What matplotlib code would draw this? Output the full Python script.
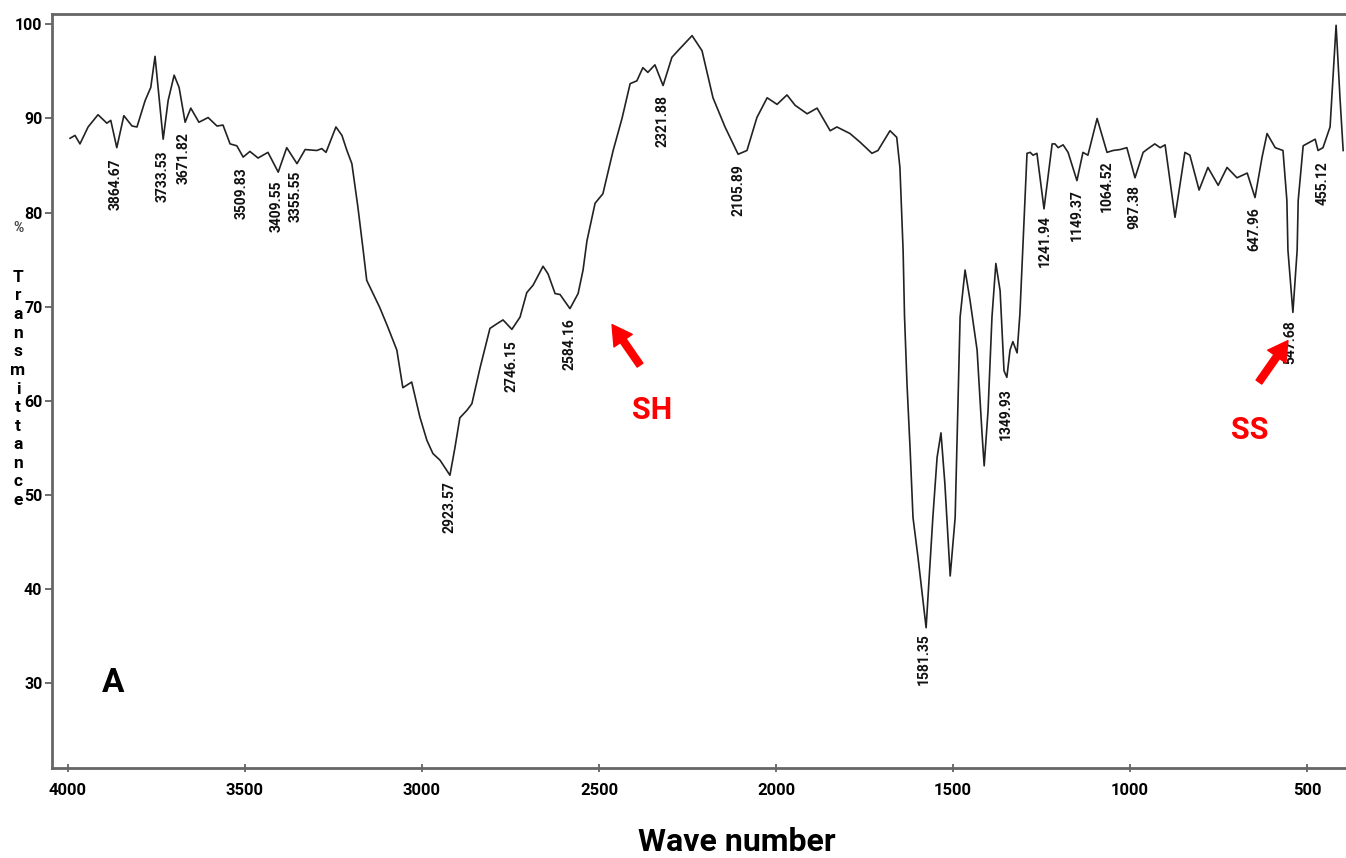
import matplotlib
matplotlib.use('Agg')
import matplotlib.pyplot as plt

# spectrum (wave number, % transmittance)
wave = [3994, 3980, 3966, 3943, 3915, 3890, 3879, 3862, 3842, 3819, 3805, 3782, 3766, 3754,
        3731, 3717, 3700, 3686, 3669, 3653, 3630, 3604, 3579, 3562, 3542, 3523, 3505, 3486,
        3463, 3435, 3406, 3382, 3353, 3330, 3297, 3283, 3271, 3243, 3226, 3212, 3198, 3181,
        3167, 3156, 3138, 3119, 3096, 3071, 3054, 3029, 3006, 2986, 2969, 2949, 2921, 2907,
        2893, 2873, 2859, 2836, 2808, 2788, 2771, 2746, 2723, 2704, 2686, 2658, 2644, 2624,
        2610, 2582, 2559, 2545, 2534, 2511, 2489, 2460, 2435, 2412, 2393, 2376, 2362, 2342,
        2319, 2294, 2277, 2237, 2209, 2178, 2144, 2107, 2082, 2054, 2025, 1997, 1969, 1946,
        1912, 1884, 1847, 1828, 1791, 1763, 1729, 1712, 1678, 1659, 1650, 1641, 1637, 1630,
        1621, 1613, 1599, 1576, 1557, 1545, 1534, 1523, 1508, 1494, 1480, 1466, 1452, 1432,
        1418, 1412, 1401, 1390, 1379, 1367, 1356, 1348, 1339, 1331, 1319, 1311, 1302, 1291,
        1282, 1274, 1263, 1243, 1220, 1212, 1203, 1189, 1175, 1150, 1133, 1119, 1093, 1065,
        1048, 1028, 1009, 986, 963, 949, 930, 915, 901, 873, 845, 831, 805, 780, 751, 726,
        698, 669, 647, 627, 613, 590, 568, 557, 554, 540, 528, 525, 511, 477, 469, 455, 435,
        418, 407, 398]
trans = [87.9, 88.2, 87.3, 89.1, 90.4, 89.5, 89.8, 86.9, 90.3, 89.2, 89.1, 91.9, 93.3, 96.6,
         87.8, 91.9, 94.6, 93.3, 89.6, 91.1, 89.6, 90.1, 89.2, 89.3, 87.3, 87.1, 85.9, 86.5,
         85.8, 86.4, 84.3, 86.9, 85.2, 86.7, 86.6, 86.8, 86.4, 89.1, 88.2, 86.6, 85.2, 80.6,
         76.3, 72.8, 71.4, 69.9, 67.8, 65.4, 61.4, 62.0, 58.3, 55.8, 54.4, 53.7, 52.1, 55.0,
         58.2, 59.0, 59.7, 63.5, 67.7, 68.2, 68.6, 67.6, 68.9, 71.5, 72.3, 74.3, 73.5, 71.4,
         71.3, 69.8, 71.4, 73.9, 77.0, 81.0, 82.0, 86.6, 90.0, 93.7, 94.0, 95.4, 94.9, 95.7,
         93.5, 96.5, 97.2, 98.8, 97.2, 92.2, 89.1, 86.2, 86.6, 90.1, 92.2, 91.5, 92.5, 91.4,
         90.5, 91.1, 88.7, 89.1, 88.4, 87.5, 86.3, 86.6, 88.7, 88.0, 84.8, 76.0, 69.0, 61.8,
         54.7, 47.6, 43.4, 35.9, 47.6, 54.0, 56.6, 51.2, 41.4, 47.6, 68.9, 73.9, 70.7, 65.4,
         56.5, 53.1, 59.0, 68.9, 74.6, 71.7, 63.2, 62.5, 65.4, 66.3, 65.1, 69.3, 77.0, 86.3,
         86.4, 86.1, 86.3, 80.4, 87.3, 87.3, 86.9, 87.2, 86.4, 83.4, 86.4, 86.1, 90.0, 86.4,
         86.6, 86.7, 86.9, 83.7, 86.4, 86.8, 87.3, 86.9, 87.2, 79.5, 86.4, 86.1, 82.4, 84.8,
         82.9, 84.8, 83.7, 84.2, 81.6, 85.9, 88.4, 86.9, 86.6, 81.3, 76.0, 69.4, 76.0, 81.3,
         87.1, 87.8, 86.6, 86.9, 89.1, 99.9, 92.2, 86.6]

# peak labels and the height where each label starts
peak_labels = ['3864.67', '3733.53', '3671.82', '3509.83', '3409.55', '3355.55', '2923.57',
               '2746.15', '2584.16', '2321.88', '2105.89', '1581.35', '1349.93', '1241.94',
               '1149.37', '1064.52', '987.38', '647.96', '547.68', '455.12']
peak_top = [85.8, 86.6, 88.6, 84.8, 83.4, 84.5, 51.5, 66.4, 68.8, 92.5, 85.2, 35.3, 61.3,
            79.7, 82.5, 85.5, 82.9, 80.6, 68.6, 85.5]

x_ticks = [4000, 3500, 3000, 2500, 2000, 1500, 1000, 500]
y_ticks = [30, 40, 50, 60, 70, 80, 90, 100]

font = ['Roboto', 'DejaVu Sans']

fig = plt.figure(figsize=(13.46, 8.58), dpi=100)
ax = fig.add_axes([52 / 1346, 1 - 768 / 858, 1 - 52 / 1346, 754 / 858])

ax.plot(wave, trans, color='#222222', lw=1.2)
ax.set_xlim(4045, 390)
ax.set_ylim(21, 101.1)

ax.set_xticks(x_ticks)
ax.set_yticks(y_ticks)
ax.tick_params(axis='y', direction='out', length=5, width=1.2, color='#555555', pad=2)
ax.tick_params(axis='x', direction='inout', length=6, width=1.2, color='#555555', pad=8)
for lab in ax.get_yticklabels():
    lab.set_family(font)
    lab.set_fontweight('bold')
    lab.set_fontsize(11.5)
for lab in ax.get_xticklabels():
    lab.set_family(font)
    lab.set_fontweight('bold')
    lab.set_fontsize(12)

for side in ['left', 'bottom', 'top']:
    ax.spines[side].set_color('#666666')
    ax.spines[side].set_linewidth(2)
ax.spines['right'].set_visible(False)

for lab, top in zip(peak_labels, peak_top):
    ax.text(float(lab), top, lab, rotation=90, ha='center', va='top',
            family=font, fontweight='bold', fontsize=10, color='#111111')

# annotations
ax.annotate('', xy=(2463, 68.1), xytext=(2384, 63.8),
            arrowprops=dict(facecolor='red', edgecolor='red', width=5, headwidth=16, headlength=14))
ax.annotate('', xy=(554, 66.4), xytext=(636, 62.0),
            arrowprops=dict(facecolor='red', edgecolor='red', width=5, headwidth=16, headlength=14))
ax.text(2350, 59.0, 'SH', color='red', ha='center', va='center',
        family=font, fontweight='bold', fontsize=22)
ax.text(661, 56.9, 'SS', color='red', ha='center', va='center',
        family=font, fontweight='bold', fontsize=22)
ax.text(3873, 30.0, 'A', color='black', ha='center', va='center',
        family=font, fontweight='bold', fontsize=24)

fig.text(737 / 1346, 1 - 842 / 858, 'Wave number', ha='center', va='center',
         family=font, fontweight='bold', fontsize=23)
fig.text(18 / 1346, 1 - 228 / 858, '%', ha='center', va='center',
         family=font, fontweight='bold', fontsize=10, color='#444444')
fig.text(18 / 1346, 1 - 389 / 858, '\n'.join('Transmittance'), ha='center', va='center',
         family=font, fontweight='bold', fontsize=12.5, linespacing=1.3)

fig.savefig('out.png', dpi=100)
